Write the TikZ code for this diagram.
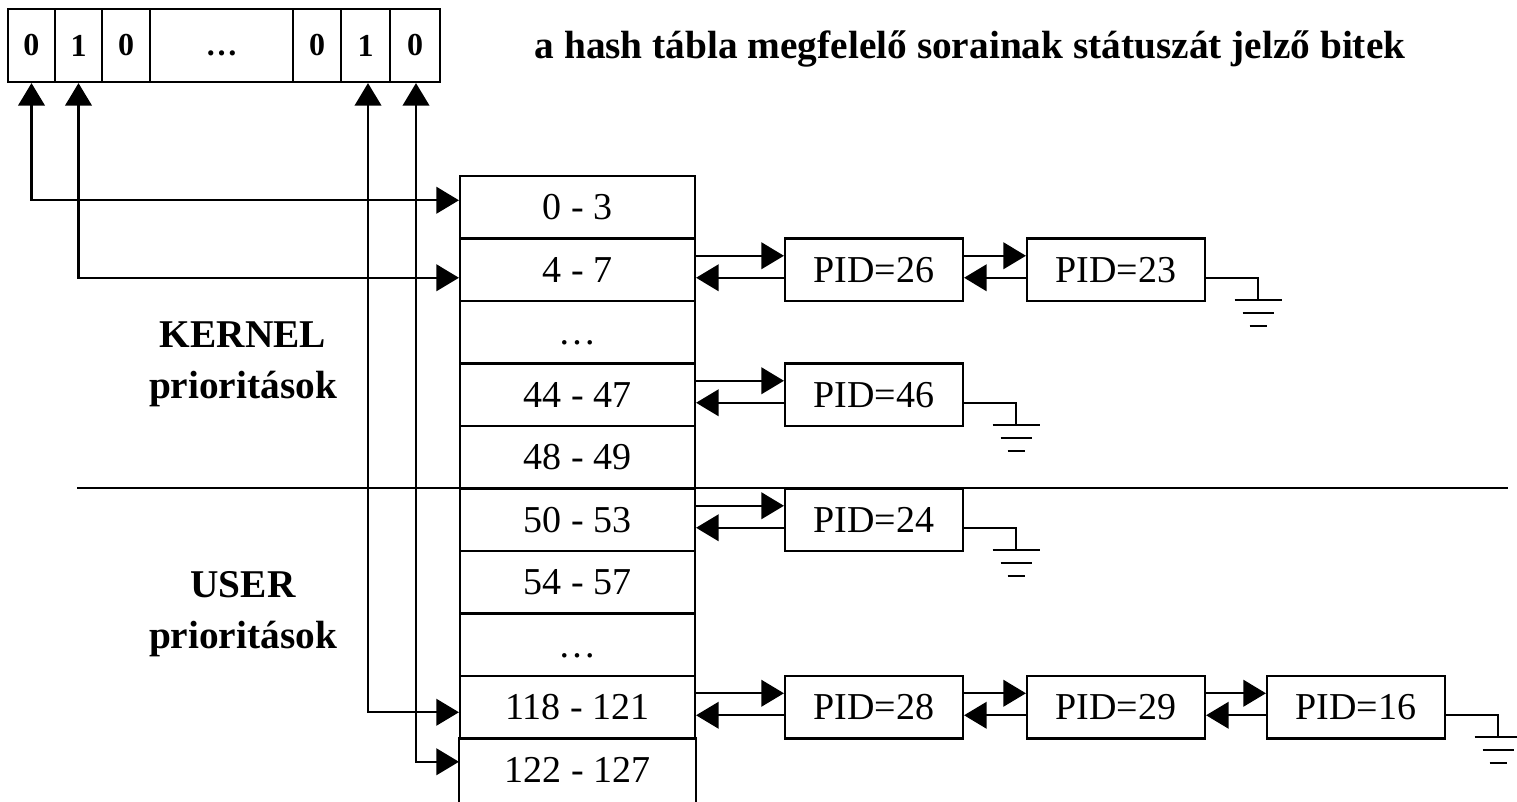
\documentclass[tikz,border=0pt]{standalone}
\usepackage{fontspec}
\setmainfont{Liberation Serif}
\usetikzlibrary{arrows.meta,calc}
\begin{document}
\begin{tikzpicture}[x=0.75pt,y=-0.75pt,line width=1.6pt,
  bitcell/.style={draw,minimum height=54.75pt,inner sep=0pt,
    font=\fontsize{24}{28}\selectfont\bfseries},
  row/.style={minimum width=176.25pt,minimum height=46.875pt,inner sep=0pt,
    font=\fontsize{28.5}{34}\selectfont},
  rowbox/.style={row,draw},
  pidbox/.style={draw,minimum width=133.5pt,minimum height=46.875pt,inner sep=0pt,
    font=\fontsize{28.5}{34}\selectfont},
  lbl/.style={align=center,font=\fontsize{29.5}{38}\selectfont\bfseries},
  fwd/.style={-{Triangle[length=17pt,width=20pt]}},
  both/.style={{Triangle[length=17pt,width=20pt]}-{Triangle[length=17pt,width=20pt]}},
  gnd/.pic={
    \draw (-23.5,0) -- (23.5,0);
    \draw (-15.5,13) -- (15.5,13);
    \draw (-8.5,26) -- (8.5,26);
  }]
\useasboundingbox (0,0) rectangle (1517,801);

% status bits
\node[bitcell,minimum width=35.25pt]  (b1) at (31.5,45.5)  {0};
\node[bitcell,minimum width=35.25pt]  (b2) at (78.5,45.5)  {1};
\node[bitcell,minimum width=36pt]     (b3) at (126,45.5)   {0};
\node[bitcell,minimum width=107.25pt] (bd) at (221.5,45.5) {\vphantom{0}…};
\node[bitcell,minimum width=36pt]     (b4) at (317,45.5)   {0};
\node[bitcell,minimum width=36.75pt]  (b5) at (365.5,45.5) {1};
\node[bitcell,minimum width=37.5pt]   (b6) at (415,45.5)   {0};

\node[anchor=base,font=\fontsize{29.5}{34}\selectfont\bfseries] (title) at (970,58)
  {a hash tábla megfelelő sorainak státuszát jelző bitek};

% priority table
\node[rowbox] (r1)  at (577.5,207.25) {0 - 3};
\node[rowbox] (r2)  at (577.5,269.75) {4 - 7};
\node[rowbox] (r3)  at (577.5,332.25) {\vphantom{0}…};
\node[rowbox] (r4)  at (577.5,394.75) {44 - 47};
\node[rowbox] (r5)  at (577.5,457.25) {48 - 49};
\node[rowbox] (r6)  at (577.5,519.75) {50 - 53};
\node[rowbox] (r7)  at (577.5,582.25) {54 - 57};
\node[rowbox] (r8)  at (577.5,644.75) {\vphantom{0}…};
\node[rowbox] (r9)  at (577.5,707.25) {118 - 121};
\node[row]    (r10) at (577.5,769.75) {122 - 127};
\draw (r10.north west) -- ($(r10.south west)+(0,6)$);
\draw (r10.north east) -- ($(r10.south east)+(0,6)$);

% kernel / user separator
\coordinate (dl) at (77,488);
\coordinate (dr) at (1508,488);
\draw (dl) -- (dr);

\node[lbl] (kern) at (243,364) {KERNEL\\prioritások};
\node[lbl] (user) at (243,614) {USER\\prioritások};

% bits to table rows
\draw[both] (b1.south) |- ($(r1.west)+(0,-7)$);
\draw[both] (b2.south) |- ($(r2.west)+(0,8)$);
\draw[both] ($(b5.south)+(2.5,0)$) |- ($(r9.west)+(0,5)$);
\draw[both] ($(b6.south)+(1,0)$) |- ($(r10.west)+(0,-8)$);

% process lists
\node[pidbox] (p26) at (874,269.75)  {PID=26};
\node[pidbox] (p23) at (1116,269.75) {PID=23};
\node[pidbox] (p46) at (874,394.75)  {PID=46};
\node[pidbox] (p24) at (874,519.75)  {PID=24};
\node[pidbox] (p28) at (874,707.25)  {PID=28};
\node[pidbox] (p29) at (1116,707.25) {PID=29};
\node[pidbox] (p16) at (1356,707.25) {PID=16};

\foreach \a/\b in {r2/p26,p26/p23,r4/p46,r6/p24,r9/p28,p28/p29,p29/p16}{
  \draw[fwd] ($(\a.east)+(0,-14)$) -- ($(\b.west)+(0,-14)$);
  \draw[fwd] ($(\b.west)+(0,8)$) -- ($(\a.east)+(0,8)$);
}

% list terminators
\foreach \p in {p23,p46,p24,p16}{
  \coordinate (g\p) at ($(\p.east)+(52,30)$);
  \draw ($(\p.east)+(0,8)$) -| (g\p);
  \pic at (g\p) {gnd};
}
\end{tikzpicture}
\end{document}
